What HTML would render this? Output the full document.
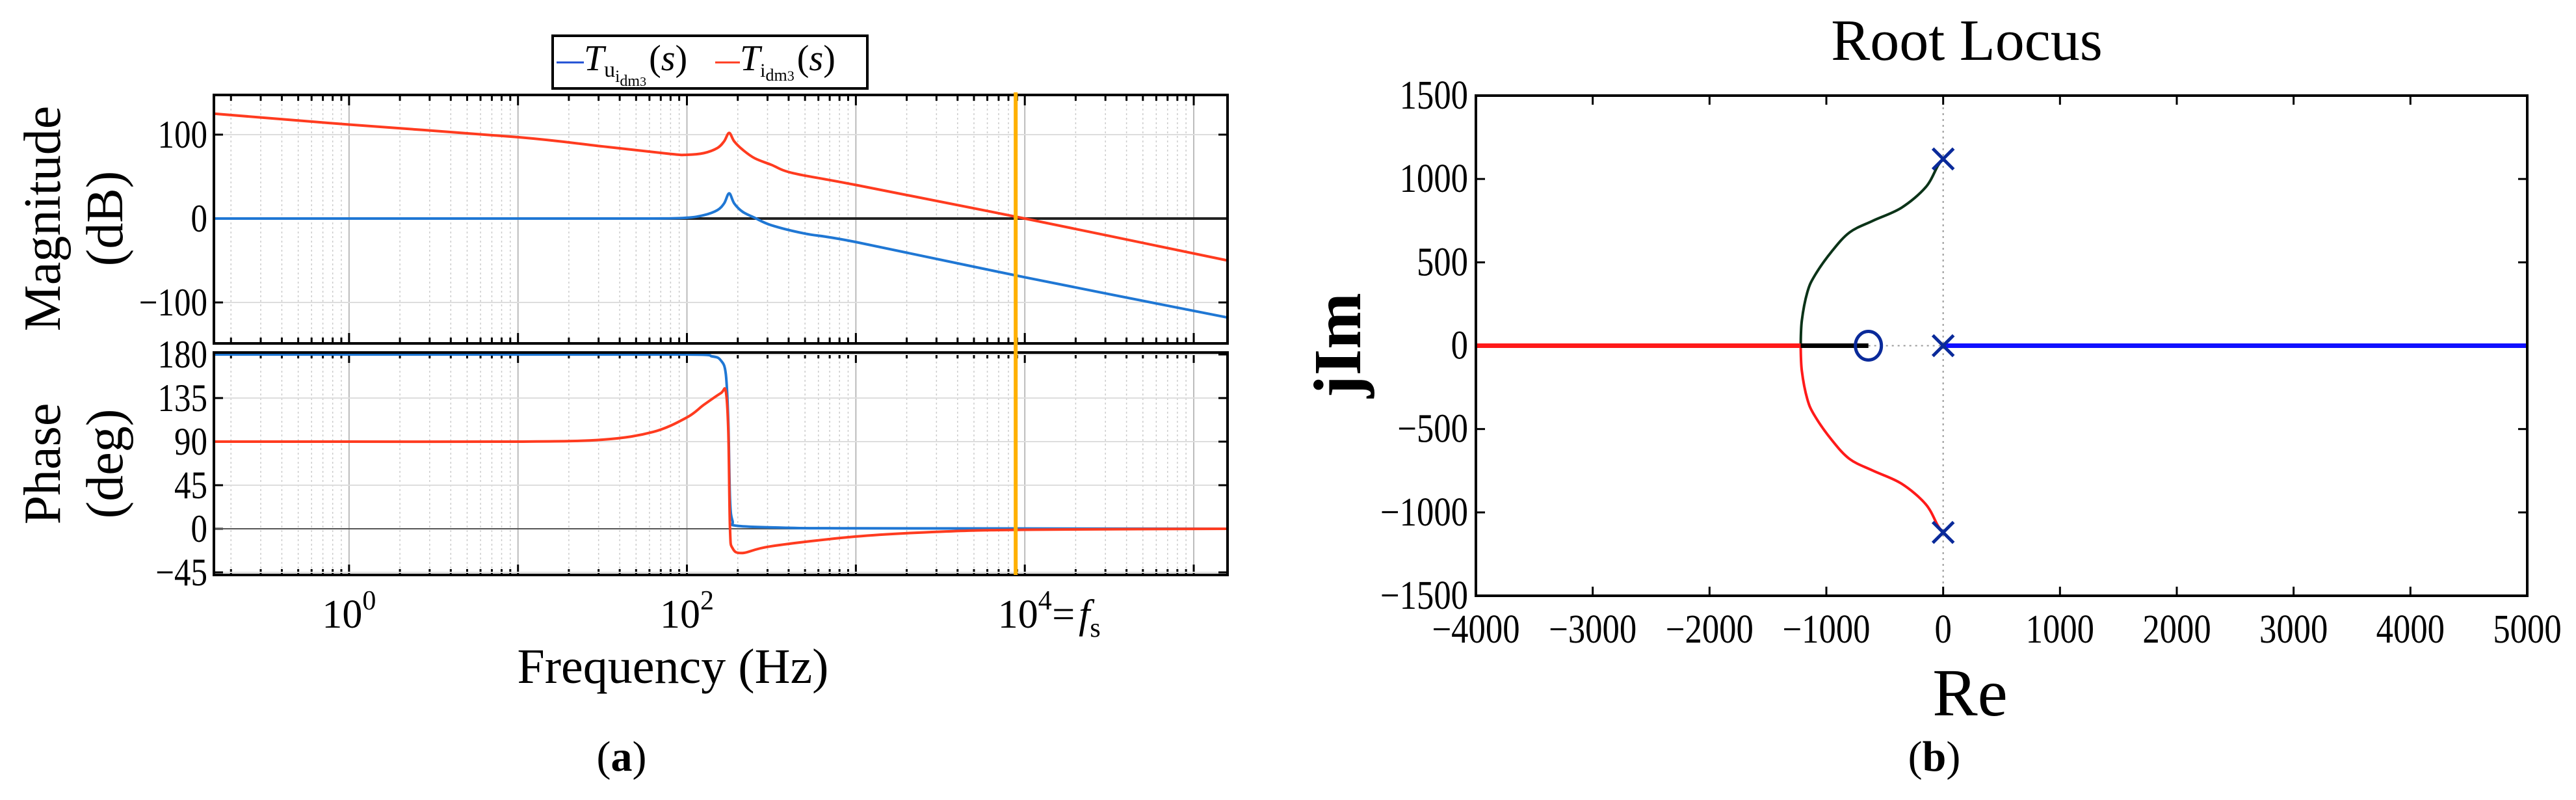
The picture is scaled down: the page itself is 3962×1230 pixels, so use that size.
<!DOCTYPE html>
<html><head><meta charset="utf-8"><style>
html,body{margin:0;padding:0;background:#fff;}
svg{display:block;font-family:"Liberation Serif",serif;}
</style></head><body>
<svg id="fig" width="3962" height="1230" viewBox="0 0 3962 1230" xmlns="http://www.w3.org/2000/svg">
<g id="bode"></g>
<g id="rl"></g>
</svg>
<script>
// ---- Bode data (log10 frequency) ----
const magRedF = [-0.8,0,1,1.5,1.9,2.0,2.1,2.18,2.22,2.25,2.28,2.33,2.4,2.5,2.63,3,4,5.2];
const magRedV = [125,112,97,86,77,76,78,84,92,102,92,82,72,64,54,40,0,-50];
const magBlueF = [-0.8,1,1.8,2.0,2.1,2.18,2.22,2.25,2.28,2.33,2.4,2.5,2.7,3,4,5.2];
const magBlueV = [0,0,0,1,4,10,18,30,18,8,1,-8,-18,-28,-70,-118];
const phRedF = [-0.8,0,1,1.5,1.8,2.0,2.1,2.2,2.23,2.245,2.255,2.27,2.33,2.5,3,3.5,4,5.2];
const phRedV = [90,90,90,92,100,115,128,140,142,100,0,-20,-25,-18,-8,-3,-1,0];
const phBlueF = [-0.8,1,2.0,2.15,2.2,2.23,2.245,2.255,2.27,2.3,2.6,3,5.2];
const phBlueV = [180,180,180,178,174,160,110,30,8,3,1,0.5,0];
const magTicks = [-100,0,100];
const phTicks = [-45,0,45,90,135,180];
const decTicks = [0,2,4];
const fsLog = 3.946;
// ---- Root locus data ----
const branchRe = [0,-45,-150,-358,-603,-800,-953,-1100,-1163,-1210,-1220];
const branchIm = [1120,1080,950,827,749,680,566,420,320,150,0];
const polesRe = [0,0,0];
const polesIm = [1120,0,-1120];
const zerosRe = [-640];
const breakRe = -1220;
const rlXTicks = [-4000,-3000,-2000,-1000,0,1000,2000,3000,4000,5000];
const rlYTicks = [-1500,-1000,-500,0,500,1000,1500];

const NS="http://www.w3.org/2000/svg";
function mk(parent,tag,attrs,text){const e=document.createElementNS(NS,tag);for(const k in attrs)e.setAttribute(k,attrs[k]);if(text!==undefined)e.textContent=text;parent.appendChild(e);return e;}

const XL=329,XR=1888,LMIN=-0.8,LMAX=5.2;
const xf=l=>XL+(l-LMIN)/(LMAX-LMIN)*(XR-XL);
const MT=146,MB=528,ymag=v=>336-v*1.29;
const PT=542,PB=884,yph=v=>813-v*268/180;
const bode=document.getElementById('bode');

function panelGrid(top,bot,yTicks,yfun){
  for(let d=-1;d<=5;d++){for(let m=1;m<10;m++){const l=d+Math.log10(m);if(l<LMIN||l>LMAX)continue;
    const x=xf(l);
    const g=mk(bode,'line',{x1:x,x2:x,y1:top,y2:bot,stroke:m===1?'#bbb':'#ccc','stroke-width':m===1?2:1.5,'stroke-dasharray':m===1?'none':'3,4'});
    
    
    mk(bode,'line',{x1:x,x2:x,y1:bot,y2:bot-(m===1?16:9),stroke:'#000','stroke-width':3});
    mk(bode,'line',{x1:x,x2:x,y1:top,y2:top+(m===1?16:9),stroke:'#000','stroke-width':3});
  }}
  yTicks.forEach(t=>{const y=yfun(t);
    const g=mk(bode,'line',{x1:XL,x2:XR,y1:y,y2:y,stroke:'#ddd','stroke-width':2});
    
    
    mk(bode,'line',{x1:XL,x2:XL+14,y1:y,y2:y,stroke:'#000','stroke-width':3});
    mk(bode,'line',{x1:XR,x2:XR-14,y1:y,y2:y,stroke:'#000','stroke-width':3});
    const lab=mk(bode,'text',{x:XL-10,y:y+20,'text-anchor':'end','font-size':60,transform:`translate(${XL-10},0) scale(0.85,1) translate(${-(XL-10)},0)`},(t<0?'\u2212':'')+Math.abs(t));
    
    
  });
}
panelGrid(MT,MB,magTicks,ymag);
panelGrid(PT,PB,phTicks,yph);

function curve(F,V,xfun,yfun,color,name,w){
  const P=F.map((f,i)=>[xfun(f),yfun(V[i])]);
  let d='M'+P[0][0]+','+P[0][1];
  for(let i=0;i<P.length-1;i++){const p0=P[Math.max(0,i-1)],p1=P[i],p2=P[i+1],p3=P[Math.min(P.length-1,i+2)];
    const c1=[p1[0]+(p2[0]-p0[0])/6,p1[1]+(p2[1]-p0[1])/6],c2=[p2[0]-(p3[0]-p1[0])/6,p2[1]-(p3[1]-p1[1])/6];
    d+=` C${c1[0]},${c1[1]} ${c2[0]},${c2[1]} ${p2[0]},${p2[1]}`;}
  const e=mk(bode,'path',{d,fill:'none',stroke:color,'stroke-width':w||4});
  
  
  return e;
}
const zl=mk(bode,'line',{x1:XL,x2:XR,y1:ymag(0),y2:ymag(0),stroke:'#222','stroke-width':4});


curve(magBlueF,magBlueV,xf,ymag,'#1f77d4','magnitude-blue');
curve(magRedF,magRedV,xf,ymag,'#ff3b1f','magnitude-red');
mk(bode,'line',{x1:XL,x2:XR,y1:yph(0),y2:yph(0),stroke:'#555','stroke-width':2});
curve(phBlueF,phBlueV,xf,yph,'#1f77d4','phase-blue');
curve(phRedF,phRedV,xf,yph,'#ff3b1f','phase-red');
[[MT,MB],[PT,PB]].forEach(([t,b])=>{const r=mk(bode,'rect',{x:XL,y:t,width:XR-XL,height:b-t,fill:'none',stroke:'#000','stroke-width':4});
  
  });
const fl=mk(bode,'line',{x1:xf(fsLog),x2:xf(fsLog),y1:MT-4,y2:PB,stroke:'#ffb000','stroke-width':6});


decTicks.forEach(d=>{const t=mk(bode,'text',{x:xf(d),y:965,'text-anchor':'middle','font-size':62},'10');
  mk(t,'tspan',{dy:-28,'font-size':42},String(d));
  
  });
const fsT=mk(bode,'text',{x:xf(4)+42,y:965,'font-size':62},'=');


mk(fsT,'tspan',{dx:6,'font-style':'italic'},'f');
mk(fsT,'tspan',{dy:14,'font-size':42},'s');
let t;
t=mk(bode,'text',{x:1035,y:1050,'text-anchor':'middle','font-size':76},'Frequency (Hz)');

t=mk(bode,'text',{transform:'translate(92,336) rotate(-90)','text-anchor':'middle','font-size':80},'Magnitude');

t=mk(bode,'text',{transform:'translate(188,336) rotate(-90)','text-anchor':'middle','font-size':80},'(dB)');

t=mk(bode,'text',{transform:'translate(92,713) rotate(-90)','text-anchor':'middle','font-size':80},'Phase');

t=mk(bode,'text',{transform:'translate(188,713) rotate(-90)','text-anchor':'middle','font-size':80},'(deg)');

t=mk(bode,'text',{x:956,y:1185,'text-anchor':'middle','font-size':66},'(');
mk(t,'tspan',{'font-weight':'bold'},'a');mk(t,'tspan',{},')');

// legend
const lg=mk(bode,'g',{});


mk(lg,'rect',{x:850,y:55,width:484,height:81,fill:'#fff',stroke:'#000','stroke-width':4});
mk(lg,'line',{x1:856,x2:898,y1:96,y2:96,stroke:'#1f4fd4','stroke-width':3});
t=mk(lg,'text',{x:898,y:108,'font-size':56},'');
mk(t,'tspan',{'font-style':'italic'},'T');mk(t,'tspan',{dy:10,'font-size':34},'u');
mk(t,'tspan',{dy:8,'font-size':26},'i');mk(t,'tspan',{dy:6,'font-size':24},'dm');mk(t,'tspan',{'font-size':20},'3');
mk(t,'tspan',{dy:-24,dx:4},'(');mk(t,'tspan',{'font-style':'italic'},'s');mk(t,'tspan',{},')');

mk(lg,'line',{x1:1100,x2:1138,y1:96,y2:96,stroke:'#ff3b1f','stroke-width':3});
t=mk(lg,'text',{x:1138,y:108,'font-size':56},'');
mk(t,'tspan',{'font-style':'italic'},'T');mk(t,'tspan',{dy:10,'font-size':30},'i');
mk(t,'tspan',{dy:6,'font-size':26},'dm');mk(t,'tspan',{'font-size':22},'3');
mk(t,'tspan',{dy:-16,dx:4},'(');mk(t,'tspan',{'font-style':'italic'},'s');mk(t,'tspan',{},')');


// ---- Root locus ----
const rl=document.getElementById('rl');
const RL=2270,RR=3887,RT=147,RB=916;
const rx=v=>RL+(v+4000)/9000*(RR-RL);
const ry=v=>RT+(1500-v)/3000*(RB-RT);
function rm(tag,a,txt){return mk(rl,tag,a,txt);}
rm('line',{x1:rx(0),x2:rx(0),y1:RT,y2:RB,stroke:'#999','stroke-width':2,'stroke-dasharray':'3,6'});
rm('line',{x1:rx(zerosRe[0]),x2:rx(0),y1:ry(0),y2:ry(0),stroke:'#999','stroke-width':2,'stroke-dasharray':'3,6'});
rlXTicks.forEach(v=>{const x=rx(v);
  rm('line',{x1:x,x2:x,y1:RB,y2:RB-14,stroke:'#000','stroke-width':3});
  rm('line',{x1:x,x2:x,y1:RT,y2:RT+14,stroke:'#000','stroke-width':3});
  const l=rm('text',{x:x,y:RB+72,'text-anchor':'middle','font-size':62,transform:`translate(${x},0) scale(0.85,1) translate(${-x},0)`},(v<0?'\u2212':'')+Math.abs(v));
  });
rlYTicks.forEach(v=>{const y=ry(v);
  rm('line',{x1:RL,x2:RL+14,y1:y,y2:y,stroke:'#000','stroke-width':3});
  rm('line',{x1:RR,x2:RR-14,y1:y,y2:y,stroke:'#000','stroke-width':3});
  const l=rm('text',{x:RL-12,y:y+20,'text-anchor':'end','font-size':62,transform:`translate(${RL-12},0) scale(0.85,1) translate(${-(RL-12)},0)`},(v<0?'\u2212':'')+Math.abs(v));
  });
function branch(sign,color,name){
  const P=branchRe.map((r,i)=>[rx(r),ry(sign*branchIm[i])]);
  let d='M'+P[0][0]+','+P[0][1];
  for(let i=0;i<P.length-1;i++){const p0=P[Math.max(0,i-1)],p1=P[i],p2=P[i+1],p3=P[Math.min(P.length-1,i+2)];
    d+=` C${p1[0]+(p2[0]-p0[0])/6},${p1[1]+(p2[1]-p0[1])/6} ${p2[0]-(p3[0]-p1[0])/6},${p2[1]-(p3[1]-p1[1])/6} ${p2[0]},${p2[1]}`;}
  const e=rm('path',{d,fill:'none',stroke:color,'stroke-width':4});
  
}
branch(1,'#0b3318','upper-branch');
branch(-1,'#ff1a1a','lower-branch');
let e=rm('line',{x1:rx(-4000),x2:rx(breakRe),y1:ry(0),y2:ry(0),stroke:'#ff1a1a','stroke-width':7});

e=rm('line',{x1:rx(breakRe),x2:rx(zerosRe[0]),y1:ry(0),y2:ry(0),stroke:'#000','stroke-width':7});

e=rm('line',{x1:rx(0),x2:rx(5000),y1:ry(0),y2:ry(0),stroke:'#1010ff','stroke-width':7});

polesRe.forEach((r,i)=>{const x=rx(r),y=ry(polesIm[i]),s=16;
  const g=rm('path',{d:`M${x-s},${y-s}L${x+s},${y+s}M${x-s},${y+s}L${x+s},${y-s}`,stroke:'#0a2a9a','stroke-width':5,fill:'none'});
  });
zerosRe.forEach(r=>{const c=rm('ellipse',{cx:rx(r),cy:ry(0),rx:20,ry:22,fill:'none',stroke:'#0a2a9a','stroke-width':5});
  });
e=rm('rect',{x:RL,y:RT,width:RR-RL,height:RB-RT,fill:'none',stroke:'#000','stroke-width':4});

e=rm('text',{x:3025,y:92,'text-anchor':'middle','font-size':90},'Root Locus');

e=rm('text',{x:3030,y:1100,'text-anchor':'middle','font-size':104},'Re');

e=rm('text',{transform:'translate(2092,531) rotate(-90)','text-anchor':'middle','font-size':104,'font-weight':'bold'},'jIm');

e=rm('text',{x:2975,y:1185,'text-anchor':'middle','font-size':66},'(');
mk(e,'tspan',{'font-weight':'bold'},'b');mk(e,'tspan',{},')');

</script>
</body></html>
